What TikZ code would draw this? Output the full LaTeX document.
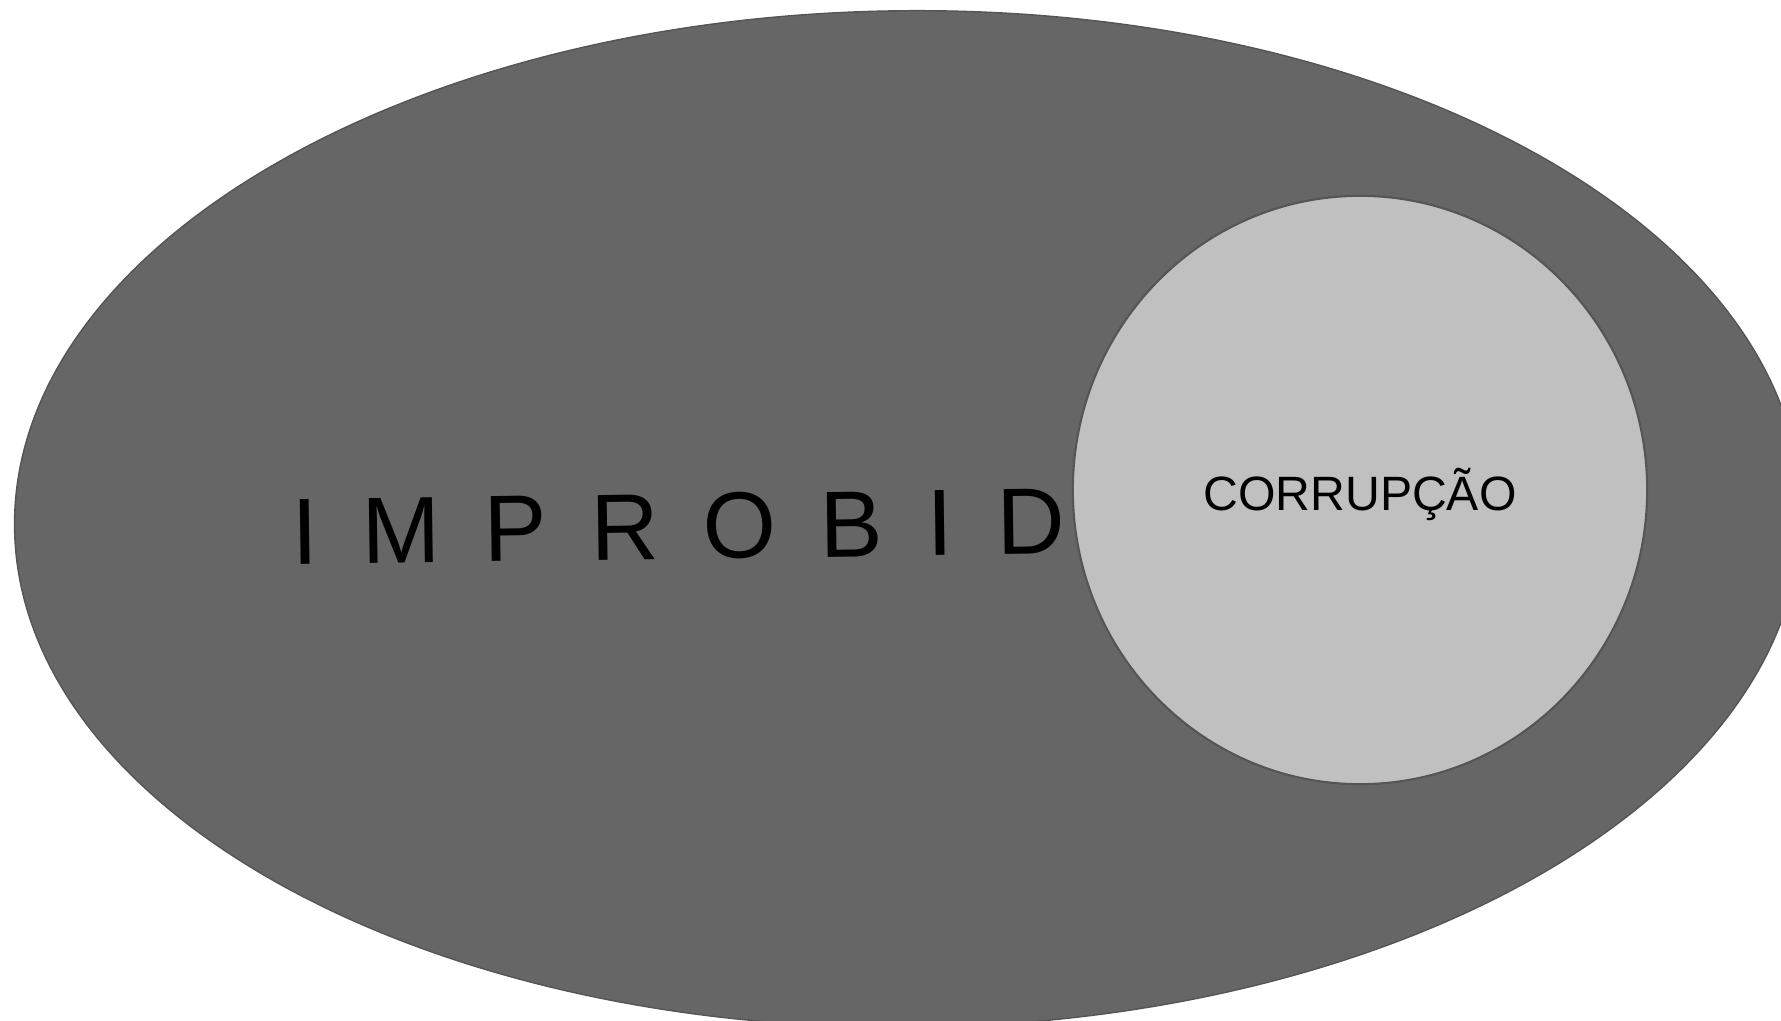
\documentclass[tikz,border=0pt]{standalone}
\usepackage{fontspec}
\setmainfont{Liberation Sans}
\usetikzlibrary{positioning, calc, shapes.geometric}

\definecolor{outergray}{HTML}{666666}
\definecolor{innergray}{HTML}{C0C0C0}
\definecolor{edgegray}{HTML}{555555}
\newcommand{\widegap}{\spaceskip=0.465em\relax}

\begin{document}
\begin{tikzpicture}[x=0.01cm, y=-0.01cm]
			\useasboundingbox (0, 0) rectangle (1781, 1021);
			\clip (0, 0) rectangle (1781, 1021);
			\node (0) at (908, 519) [ellipse, rotate=0.5, draw=edgegray, line width=0.4pt, fill=outergray, inner sep=0pt, minimum width=17.86cm, minimum height=10.16cm] {};
			\node (1) at (1360, 490) [ellipse, draw=edgegray, line width=0.6pt, fill=innergray, inner sep=0pt, minimum width=5.74cm, minimum height=5.88cm] {};
			\node (2) at (679, 559) [anchor=base, rotate=0.8, inner sep=0pt, font=\fontsize{26.8pt}{30pt}\selectfont] {\widegap I M P R O B I D};
			\node (3) at (1360, 510) [anchor=base, inner sep=0pt, font=\fontsize{13.7pt}{16pt}\selectfont] {CORRUPÇÃO};
		\end{tikzpicture}
\end{document}
